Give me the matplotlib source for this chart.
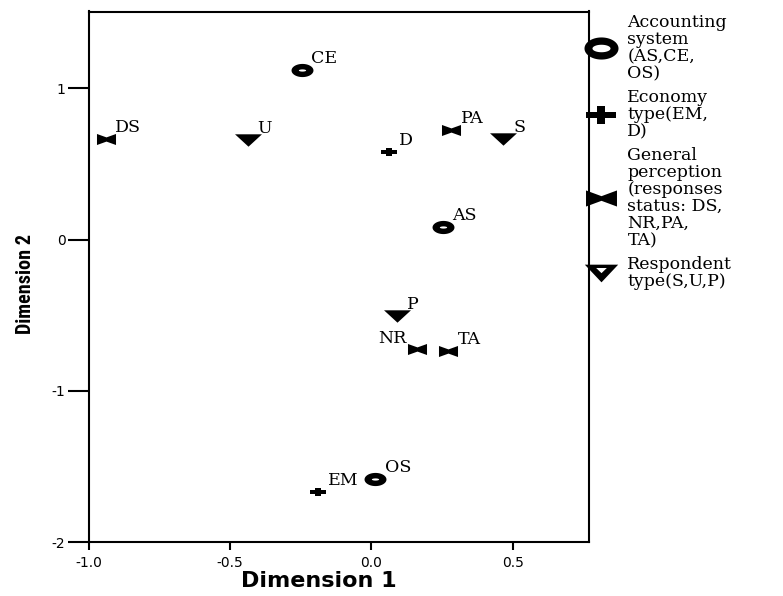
import numpy as np
import matplotlib
matplotlib.use("Agg")
import matplotlib.pyplot as plt
from matplotlib.path import Path
from matplotlib.lines import Line2D
from matplotlib.font_manager import FontProperties, fontManager

plt.rcParams['axes.unicode_minus'] = False

# ---------------- data ----------------
point_names = ["AS", "CE", "OS", "EM", "D", "DS", "NR", "PA", "TA", "S", "U", "P"]
dim1 = [0.252, -0.247, 0.013, -0.188, 0.062, -0.941, 0.163, 0.281, 0.272, 0.467, -0.437, 0.090]
dim2 = [0.081, 1.121, -1.586, -1.672, 0.581, 0.663, -0.726, 0.724, -0.737, 0.663, 0.660, -0.506]
point_group = [0, 0, 0, 1, 1, 2, 2, 2, 2, 3, 3, 3]

group_labels = [
    "Accounting\nsystem\n(AS,CE,\nOS)",
    "Economy\ntype(EM,\nD)",
    "General\nperception\n(responses\nstatus: DS,\nNR,PA,\nTA)",
    "Respondent\ntype(S,U,P)",
]

xticks = [-1.0, -0.5, 0.0, 0.5]
xtick_labels = ["-1.0", "-0.5", "0.0", "0.5"]
yticks = [1, 0, -1, -2]
ytick_labels = ["1", "0", "-1", "-2"]
left_labels = {"NR"}

# ---------------- marker shapes ----------------
def ring(rxo, ryo, rxi, ryi, n=64):
    t = np.linspace(0, 2 * np.pi, n)
    outer = np.c_[rxo * np.cos(t), ryo * np.sin(t)]
    inner = np.c_[rxi * np.cos(-t), ryi * np.sin(-t)]
    codes = [Path.MOVETO] + [Path.LINETO] * (n - 2) + [Path.CLOSEPOLY]
    return Path(np.vstack([outer, inner]), codes + codes)

def plus(hx, hy, vx, vy):
    v = [(-hx, -hy), (-hx, hy), (-vx, hy), (-vx, vy), (vx, vy), (vx, hy),
         (hx, hy), (hx, -hy), (vx, -hy), (vx, -vy), (-vx, -vy), (-vx, -hy), (-hx, -hy)]
    return Path(v, [Path.MOVETO] + [Path.LINETO] * 11 + [Path.CLOSEPOLY])

def bowtie(h, m):
    v = [(-1, -h), (-1, h), (0, m), (1, h), (1, -h), (0, -m), (-1, -h)]
    return Path(v, [Path.MOVETO] + [Path.LINETO] * 5 + [Path.CLOSEPOLY])

def tri_down(h):
    v = [(-1, h), (1, h), (0, -h), (-1, h)]
    return Path(v, [Path.MOVETO, Path.LINETO, Path.LINETO, Path.CLOSEPOLY])

def tri_down_hollow(h):
    v = [(-1, h), (1, h), (0, -h), (-1, h),
         (-0.32, 0.33), (0, 0.02), (0.32, 0.33), (-0.32, 0.33)]
    c = [Path.MOVETO, Path.LINETO, Path.LINETO, Path.CLOSEPOLY] * 2
    return Path(v, c)

plot_markers = [
    (ring(1, 0.6, 0.33, 0.1), 15.8),
    (plus(1, 0.3, 0.38, 0.5), 11.5),
    (bowtie(0.58, 0.22), 13.7),
    (tri_down(0.46), 19.4),
]
legend_markers = [
    (ring(1, 0.65, 0.53, 0.22), 24.5),
    (plus(1, 0.2, 0.27, 0.57), 21.6),
    (bowtie(0.52, 0.15), 22.3),
    (tri_down_hollow(0.53), 24.0),
]

# condensed bold font for the vertical axis title, if one is installed
def condensed_bold():
    preferred = ["Liberation Sans Narrow", "Arial Narrow", "Roboto Condensed",
                 "Open Sans Condensed", "DejaVu Sans"]
    cands = []
    for f in fontManager.ttflist:
        st = f.stretch
        cond = (isinstance(st, str) and "condensed" in st.lower()) or \
               (isinstance(st, (int, float)) and st < 500)
        wt = f.weight
        bold = (isinstance(wt, (int, float)) and wt >= 600) or \
               (isinstance(wt, str) and wt.lower() in ("bold", "heavy", "black", "semibold", "demibold"))
        if cond and bold:
            rank = preferred.index(f.name) if f.name in preferred else len(preferred)
            cands.append((rank, f.fname))
    if cands:
        cands.sort()
        return cands[0][1]
    return None

# ---------------- figure ----------------
fig = plt.figure(figsize=(7.83, 5.96), dpi=100)
ax = fig.add_axes([89 / 783, 1 - 542 / 596, 500 / 783, (542 - 11.5) / 596])

serif = FontProperties(family="DejaVu Serif", size=12.5)
for g, (mpath, ms) in enumerate(plot_markers):
    xs = [x for x, k in zip(dim1, point_group) if k == g]
    ys = [y for y, k in zip(dim2, point_group) if k == g]
    ax.plot(xs, ys, linestyle="none", marker=mpath, markersize=ms,
            color="black", markeredgewidth=0, zorder=3)

for name, x, y in zip(point_names, dim1, dim2):
    if name in left_labels:
        ax.annotate(name, (x, y), xytext=(-8, 4.5), textcoords="offset points",
                    ha="right", va="baseline", fontproperties=serif)
    else:
        ax.annotate(name, (x, y), xytext=(7, 5), textcoords="offset points",
                    ha="left", va="baseline", fontproperties=serif)

ax.set_xlim(-1.0, 0.7705)
ax.set_ylim(-2.0, 1.508)
ax.set_xticks(xticks)
ax.set_xticklabels(xtick_labels)
ax.set_yticks(yticks)
ax.set_yticklabels(ytick_labels)
for s in ax.spines.values():
    s.set_linewidth(1.5)
ax.tick_params(axis="y", direction="out", length=15, width=1.5, pad=2, labelsize=10)
ax.tick_params(axis="x", direction="out", length=6, width=1.5, pad=4, labelsize=10)
for lab in ax.get_xticklabels() + ax.get_yticklabels():
    lab.set_family("DejaVu Sans")

ax.set_xlabel("Dimension 1", fontsize=16, fontweight="heavy", family="DejaVu Sans",
              va="center")
ax.xaxis.set_label_coords((319 - 89) / 500, -(581 - 542) / 530.5)

cfont = condensed_bold()
if cfont:
    yprop = FontProperties(fname=cfont, size=14.5)
else:
    yprop = FontProperties(family="DejaVu Sans", weight="bold", size=12)
ax.set_ylabel("Dimension 2", fontproperties=yprop, va="center")
ax.yaxis.set_label_coords(-(89 - 26) / 500, (542 - 284) / 530.5)

handles = [Line2D([], [], linestyle="none", marker=p, markersize=ms, color="black",
                  markeredgewidth=0) for p, ms in legend_markers]
leg = fig.legend(handles, group_labels, loc="upper left",
                 bbox_to_anchor=(584 / 783, 1 - 14 / 596), frameon=False,
                 borderpad=0, borderaxespad=0, handlelength=2.0, handletextpad=0.5,
                 labelspacing=0.4, prop=FontProperties(family="DejaVu Serif", size=12.5))
for t in leg.get_texts():
    t.set_linespacing(1.0)

fig.savefig("out.png", dpi=100)
